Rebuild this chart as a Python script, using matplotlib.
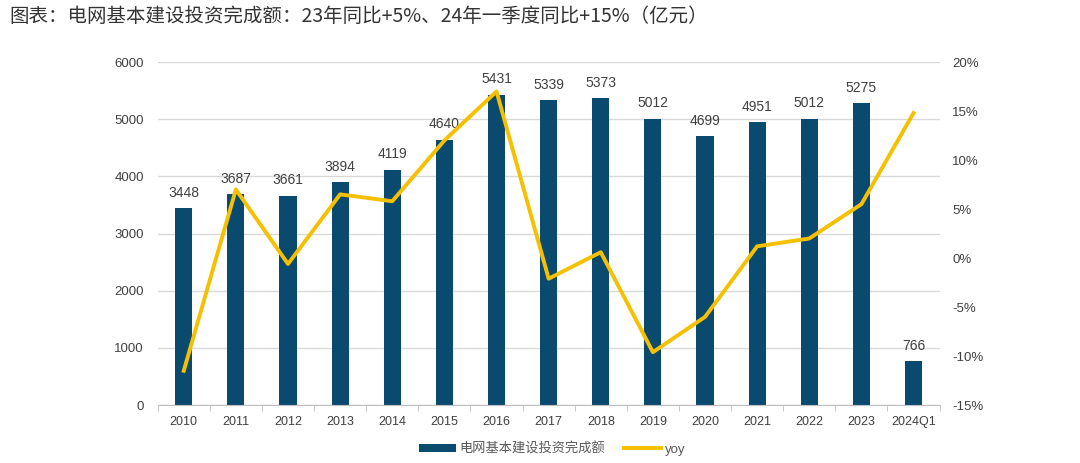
import numpy as np
import matplotlib.pyplot as plt
from matplotlib.ticker import FuncFormatter

plt.rcParams['font.family'] = ['Liberation Sans', 'Noto Sans CJK SC', 'DejaVu Sans']

# 数据
years = ['2010', '2011', '2012', '2013', '2014', '2015', '2016', '2017',
         '2018', '2019', '2020', '2021', '2022', '2023', '2024Q1']
invest = [3448, 3687, 3661, 3894, 4119, 4640, 5431, 5339,
          5373, 5012, 4699, 4951, 5012, 5275, 766]
yoy = [-11.5, 7.0, -0.6, 6.5, 5.8, 12.0, 17.0, -2.1,
       0.6, -9.6, -6.0, 1.2, 2.0, 5.5, 14.8]

bar_color = '#0B4A6F'
line_color = '#F5C000'
text_color = '#404040'

fig = plt.figure(figsize=(10.8, 4.63), dpi=100)
ax = fig.add_axes([0.146, 0.125, 0.724, 0.741])
x = np.arange(len(years))

bars = ax.bar(x, invest, width=0.33, color=bar_color, zorder=2, label='电网基本建设投资完成额')
for xi, v in zip(x, invest):
    ax.annotate(str(v), (xi, v), xytext=(0, 6), textcoords='offset points',
                ha='center', va='bottom', fontsize=10, color=text_color, zorder=3)

ax.set_ylim(0, 6000)
ax.set_yticks(range(0, 6001, 1000))
ax.set_xlim(-0.5, len(years) - 0.5)
ax.set_xticks(x)
ax.set_xticklabels(years)
ax.set_xticks(np.arange(-0.5, len(years)), minor=True)
ax.tick_params(axis='x', which='major', length=0, labelsize=9, colors=text_color, pad=8)
ax.tick_params(axis='x', which='minor', length=4, color='#BFBFBF')
ax.tick_params(axis='y', length=0, labelsize=9.5, colors=text_color, pad=10)
ax.grid(axis='y', color='#D9D9D9', linewidth=1, zorder=0)
for s in ['top', 'right', 'left']:
    ax.spines[s].set_visible(False)
ax.spines['bottom'].set_color('#BFBFBF')

ax2 = ax.twinx()
line, = ax2.plot(x, yoy, color=line_color, linewidth=2.8, zorder=5, label='yoy')
ax2.set_ylim(-15, 20)
ax2.set_yticks(range(-15, 21, 5))
ax2.yaxis.set_major_formatter(FuncFormatter(lambda v, p: f'{int(v)}%'))
ax2.tick_params(axis='y', length=0, labelsize=9.5, colors=text_color, pad=9)
for s in ['top', 'right', 'left', 'bottom']:
    ax2.spines[s].set_visible(False)

fig.legend([bars, line], ['电网基本建设投资完成额', 'yoy'], loc='center',
           bbox_to_anchor=(0.511, 0.03), ncol=2, frameon=False, fontsize=9.5,
           handlelength=2.8, handleheight=0.55, handletextpad=0.3,
           columnspacing=1.4, labelcolor='#595959')

fig.text(0.009, 0.965, '图表：电网基本建设投资完成额：23年同比+5%、24年一季度同比+15%（亿元）',
         family=['Noto Sans CJK SC', 'DejaVu Sans'], fontsize=14, color='#333333',
         ha='left', va='center')

fig.savefig('out.png', dpi=100)
